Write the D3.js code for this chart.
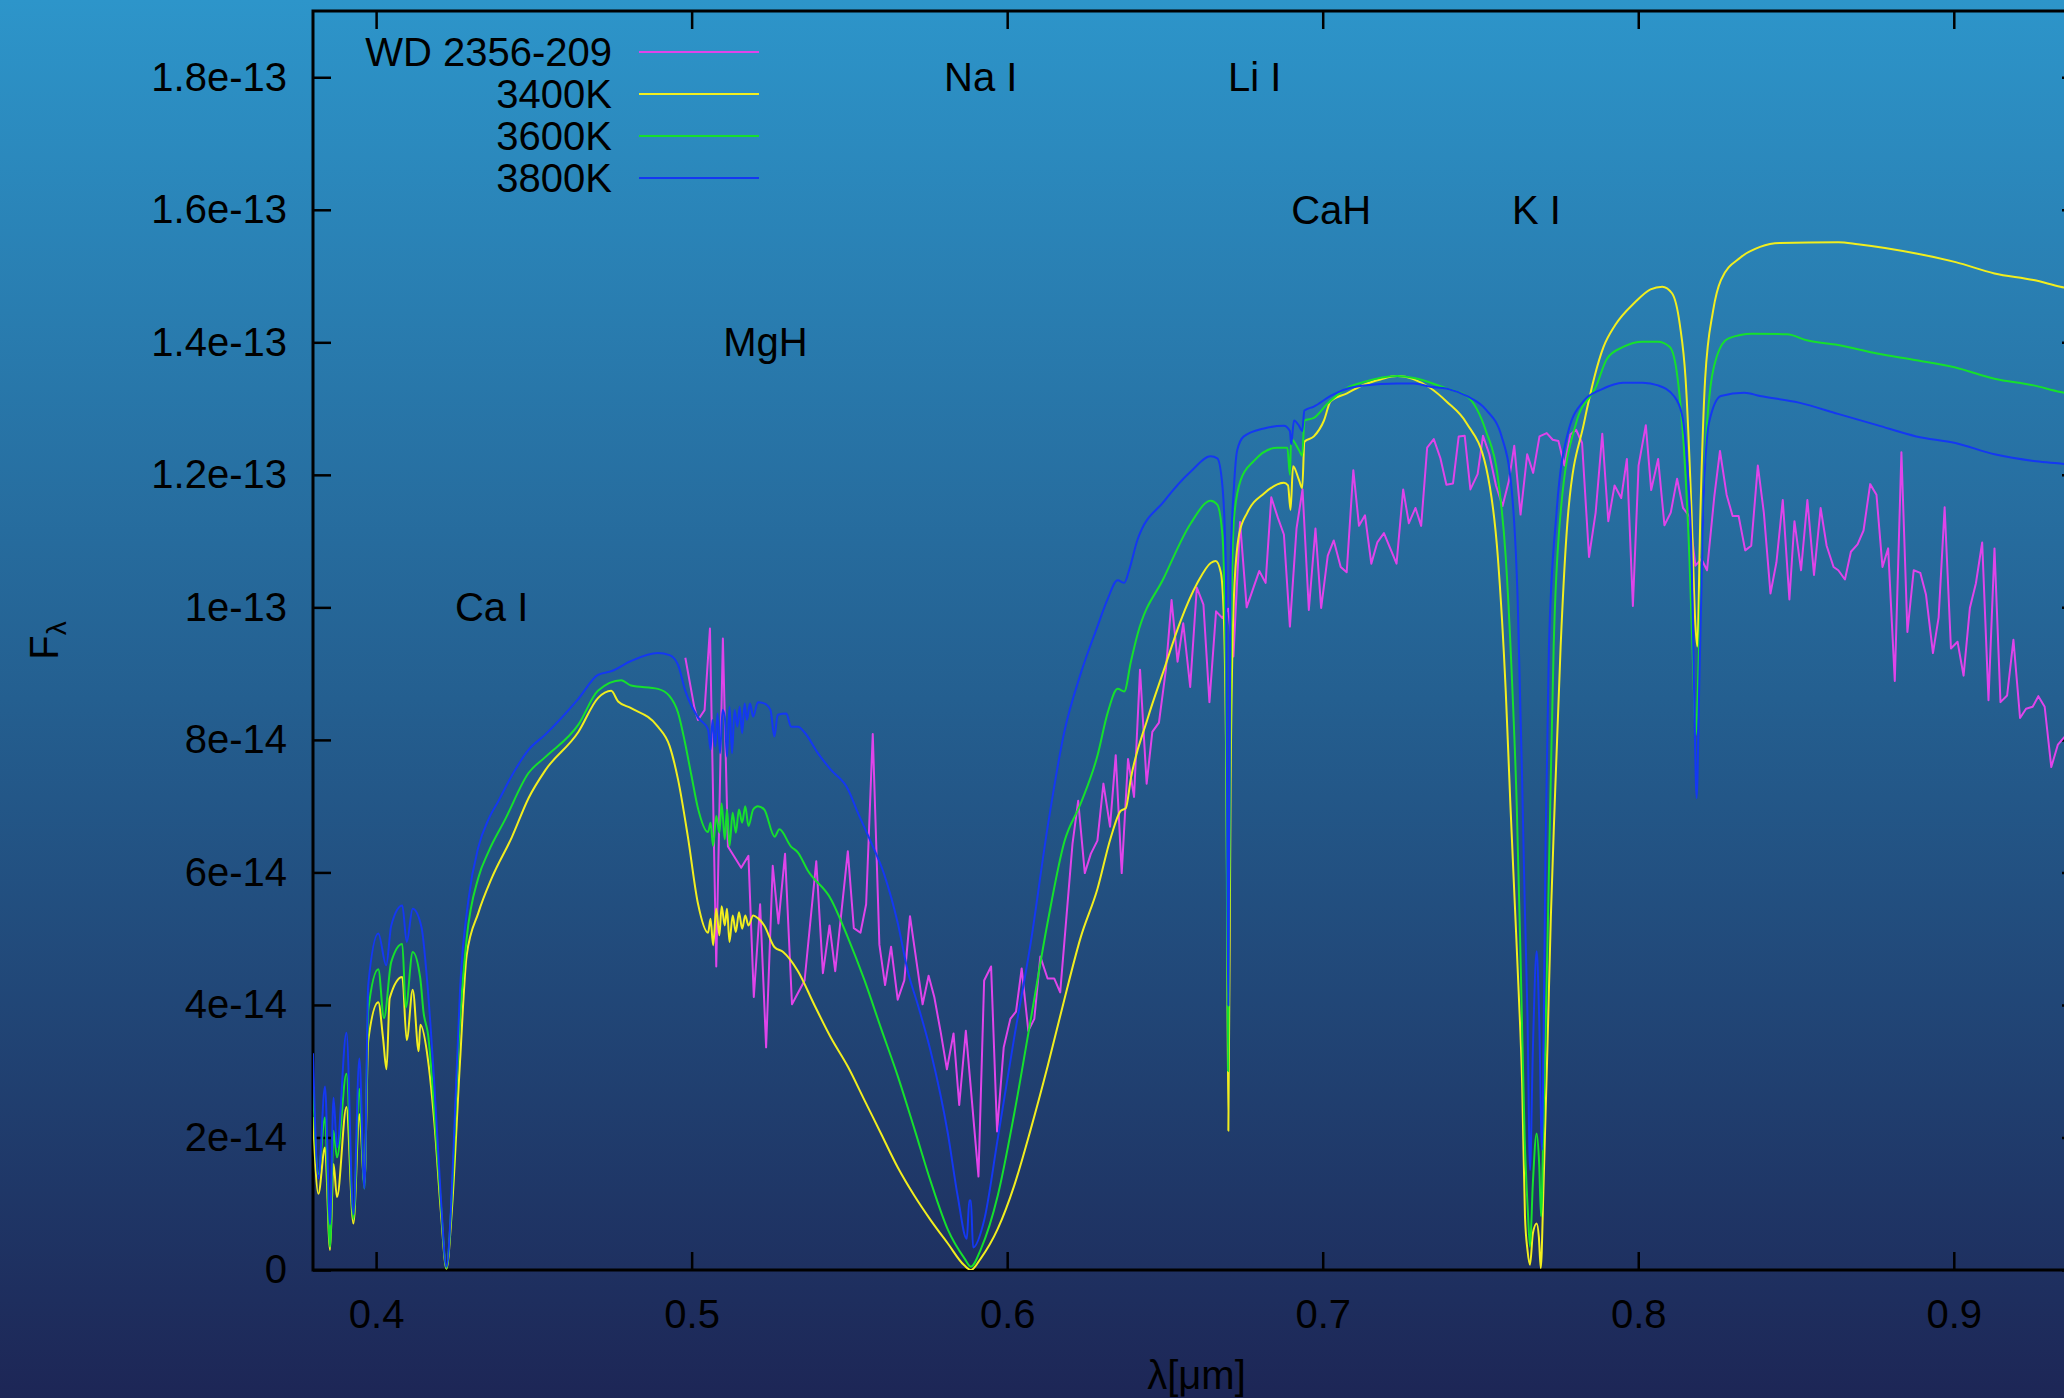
<!DOCTYPE html>
<html>
<head>
<meta charset="utf-8">
<script src="https://cdn.jsdelivr.net/npm/d3@7"></script>
<style>
  html, body { margin: 0; padding: 0; overflow: hidden; background: #1d2757; }
  text { font-family: "Liberation Sans", Arial, Helvetica, sans-serif; fill: #000; }
</style>
</head>
<body>
<svg id="chart" width="2064" height="1398"></svg>
<script>
// Flux values are given in units of 1e-14 (erg s^-1 cm^-2 A^-1), wavelength in micron.
const FLUX_UNIT = 1e-14;

// Observed spectrum of WD 2356-209 (companion-dominated red part)
const wd2356 = [
  [0.4980,9.24],[0.5009,8.48],[0.5020,8.30],[0.5041,8.45],[0.5058,9.68],[0.5078,4.58],[0.5099,9.53],
  [0.5115,6.39],[0.5157,6.07],[0.5180,6.25],[0.5197,4.12],[0.5217,5.52],[0.5236,3.36],[0.5257,6.10],
  [0.5275,5.23],[0.5296,6.28],[0.5318,4.01],[0.5358,4.37],[0.5395,6.17],[0.5416,4.48],[0.5437,5.20],
  [0.5455,4.51],[0.5495,6.32],[0.5514,5.16],[0.5535,5.09],[0.5553,5.52],[0.5574,8.09],[0.5595,4.91],
  [0.5613,4.30],[0.5632,4.88],[0.5653,4.08],[0.5674,4.37],[0.5692,5.34],[0.5732,4.01],[0.5751,4.44],
  [0.5769,4.12],[0.5790,3.57],[0.5809,3.03],[0.5830,3.57],[0.5848,2.49],[0.5869,3.61],[0.5909,1.41],
  [0.5927,4.37],[0.5949,4.58],[0.5968,2.09],[0.5989,3.36],[0.6010,3.79],[0.6028,3.90],[0.6046,4.55],
  [0.6067,3.61],[0.6086,3.79],[0.6105,4.73],[0.6128,4.40],[0.6149,4.40],[0.6168,4.19],[0.6207,6.43],
  [0.6225,7.08],[0.6246,5.99],[0.6265,6.28],[0.6286,6.48],[0.6305,7.34],[0.6326,6.69],[0.6344,7.77],
  [0.6363,5.99],[0.6383,7.71],[0.6402,7.14],[0.6421,9.06],[0.6442,7.34],[0.6460,8.12],[0.6481,8.26],
  [0.6503,9.06],[0.6521,10.11],[0.6540,9.18],[0.6558,9.76],[0.6580,8.80],[0.6601,10.30],[0.6622,10.04],
  [0.6641,8.57],[0.6662,9.94],[0.6682,9.84],[0.6700,9.98],[0.6717,9.26],[0.6738,11.29],[0.6759,10.00],
  [0.6780,10.29],[0.6799,10.55],[0.6819,10.37],[0.6837,11.66],[0.6858,11.35],[0.6877,11.10],[0.6896,9.71],
  [0.6917,11.19],[0.6936,11.78],[0.6956,9.96],[0.6977,11.19],[0.6995,9.99],[0.7016,10.78],[0.7035,11.01],
  [0.7057,10.61],[0.7076,10.53],[0.7097,12.07],[0.7115,11.23],[0.7134,11.39],[0.7154,10.66],[0.7173,10.98],
  [0.7194,11.12],[0.7234,10.66],[0.7255,11.78],[0.7273,11.27],[0.7294,11.50],[0.7312,11.23],[0.7331,12.41],
  [0.7352,12.54],[0.7373,12.25],[0.7392,11.85],[0.7413,11.87],[0.7431,12.58],[0.7450,12.59],[0.7468,11.78],
  [0.7491,12.01],[0.7508,12.59],[0.7528,12.31],[0.7549,11.84],[0.7570,11.53],[0.7590,11.91],[0.7607,12.44],
  [0.7627,11.40],[0.7648,12.31],[0.7667,12.03],[0.7687,12.58],[0.7710,12.63],[0.7729,12.53],[0.7747,12.51],
  [0.7766,12.14],[0.7785,12.61],[0.7803,12.68],[0.7822,12.48],[0.7844,10.76],[0.7865,11.43],[0.7886,12.62],
  [0.7905,11.30],[0.7925,11.84],[0.7946,11.65],[0.7964,12.24],[0.7983,10.02],[0.8001,12.14],[0.8024,12.75],
  [0.8041,11.77],[0.8063,12.24],[0.8083,11.24],[0.8103,11.43],[0.8123,11.94],[0.8142,11.50],[0.8163,11.37],
  [0.8181,10.63],[0.8200,10.73],[0.8218,10.56],[0.8241,11.67],[0.8259,12.36],[0.8280,11.70],[0.8299,11.38],
  [0.8318,11.38],[0.8339,10.86],[0.8358,10.93],[0.8379,12.14],[0.8398,11.43],[0.8419,10.21],[0.8438,10.68],
  [0.8458,11.62],[0.8479,10.12],[0.8495,11.30],[0.8516,10.56],[0.8536,11.62],[0.8557,10.49],[0.8578,11.50],
  [0.8597,10.93],[0.8619,10.61],[0.8634,10.56],[0.8655,10.42],[0.8674,10.84],[0.8695,10.95],[0.8714,11.16],
  [0.8735,11.86],[0.8755,11.70],[0.8774,10.61],[0.8792,10.89],[0.8813,8.89],[0.8834,12.34],[0.8853,9.63],
  [0.8873,10.56],[0.8894,10.52],[0.8912,10.19],[0.8934,9.31],[0.8952,9.85],[0.8971,11.51],[0.8991,9.38],
  [0.9012,9.48],[0.9031,8.97],[0.9051,9.99],[0.9070,10.36],[0.9090,10.98],[0.9110,8.60],[0.9129,10.89],
  [0.9148,8.57],[0.9169,8.67],[0.9189,9.51],[0.9210,8.33],[0.9229,8.47],[0.9250,8.50],[0.9268,8.66],
  [0.9288,8.50],[0.9309,7.59],[0.9330,7.93],[0.9352,8.05]
];

// Model atmosphere, Teff = 3400 K
const model3400K = [
  [0.3800,2.31],[0.3817,1.15],[0.3838,1.85],[0.3854,0.30],[0.3865,1.60],[0.3876,1.10],[0.3906,2.46],
  [0.3928,0.70],[0.3947,2.35],[0.3963,1.30],[0.3975,3.46],[0.4007,4.04],[0.4022,3.50],[0.4033,3.03],
  [0.4043,4.10],[0.4083,4.42],[0.4097,3.47],[0.4116,4.23],[0.4135,3.30],[0.4140,3.70],[0.4165,3.15],
  [0.4185,2.20],[0.4205,0.90],[0.4223,0.02],[0.4240,0.90],[0.4266,3.15],[0.4287,4.75],[0.4324,5.39],
  [0.4367,5.92],[0.4430,6.53],[0.4483,7.12],[0.4536,7.54],[0.4641,8.12],[0.4703,8.63],[0.4745,8.74],
  [0.4767,8.58],[0.4808,8.48],[0.4893,8.20],[0.4930,7.91],[0.4957,7.40],[0.4988,6.54],[0.5020,5.53],
  [0.5052,5.09],[0.5060,5.30],[0.5068,4.90],[0.5078,5.45],[0.5088,5.05],[0.5095,5.49],[0.5105,5.20],
  [0.5112,5.45],[0.5120,4.95],[0.5130,5.35],[0.5140,5.10],[0.5150,5.40],[0.5160,5.15],[0.5170,5.35],
  [0.5180,5.20],[0.5195,5.35],[0.5210,5.31],[0.5230,5.20],[0.5263,4.87],[0.5290,4.80],[0.5337,4.51],
  [0.5389,4.00],[0.5442,3.50],[0.5495,3.07],[0.5548,2.56],[0.5600,2.06],[0.5653,1.55],[0.5706,1.12],
  [0.5758,0.75],[0.5812,0.40],[0.5864,0.07],[0.5885,0.00],[0.5917,0.18],[0.5970,0.62],[0.6022,1.27],
  [0.6075,2.13],[0.6128,3.07],[0.6181,4.08],[0.6233,5.02],[0.6286,5.75],[0.6328,6.52],[0.6360,6.93],
  [0.6376,6.97],[0.6392,7.42],[0.6445,8.32],[0.6497,9.06],[0.6550,9.80],[0.6603,10.37],[0.6645,10.67],
  [0.6661,10.70],[0.6677,10.53],[0.6687,9.80],[0.6696,6.52],[0.6701,2.10],[0.6708,7.34],[0.6719,10.20],
  [0.6735,11.10],[0.6761,11.43],[0.6814,11.72],[0.6877,11.88],[0.6890,11.84],[0.6898,11.47],[0.6906,12.13],
  [0.6925,11.92],[0.6935,11.80],[0.6942,12.50],[0.6972,12.58],[0.7004,12.82],[0.7025,13.11],[0.7077,13.23],
  [0.7130,13.36],[0.7183,13.44],[0.7236,13.49],[0.7289,13.44],[0.7341,13.31],[0.7394,13.10],[0.7456,12.78],
  [0.7518,12.11],[0.7555,10.76],[0.7580,8.74],[0.7595,7.00],[0.7609,5.50],[0.7621,4.20],[0.7632,2.82],
  [0.7641,0.81],[0.7649,0.30],[0.7657,0.08],[0.7666,0.55],[0.7678,0.70],[0.7685,0.50],[0.7691,0.03],
  [0.7700,1.31],[0.7712,3.32],[0.7723,5.33],[0.7735,7.00],[0.7754,9.41],[0.7778,11.43],[0.7828,12.78],
  [0.7890,13.93],[0.7927,14.26],[0.7989,14.60],[0.8039,14.80],[0.8076,14.84],[0.8107,14.74],[0.8132,14.26],
  [0.8150,13.45],[0.8169,11.43],[0.8181,9.75],[0.8187,9.41],[0.8197,11.43],[0.8212,13.45],[0.8237,14.47],
  [0.8262,14.94],[0.8324,15.28],[0.8386,15.44],[0.8448,15.50],[0.8634,15.51],[0.8696,15.48],[0.8881,15.34],
  [0.9006,15.21],[0.9129,15.04],[0.9253,14.94],[0.9338,14.84],[0.9400,14.78]
];

// Model atmosphere, Teff = 3600 K
const model3600K = [
  [0.3800,2.77],[0.3817,1.45],[0.3838,2.30],[0.3854,0.35],[0.3865,2.10],[0.3876,1.70],[0.3906,2.96],
  [0.3928,0.77],[0.3947,2.73],[0.3963,1.23],[0.3975,3.92],[0.4007,4.54],[0.4025,3.80],[0.4048,4.65],
  [0.4083,4.92],[0.4094,3.96],[0.4116,4.80],[0.4140,4.40],[0.4150,3.90],[0.4165,3.54],[0.4185,2.38],
  [0.4205,1.00],[0.4223,0.03],[0.4240,1.10],[0.4260,3.30],[0.4287,5.00],[0.4324,5.92],[0.4356,6.31],
  [0.4409,6.80],[0.4483,7.50],[0.4536,7.74],[0.4641,8.23],[0.4703,8.74],[0.4777,8.90],[0.4808,8.82],
  [0.4893,8.77],[0.4930,8.66],[0.4957,8.41],[0.4978,7.98],[0.4999,7.47],[0.5020,6.97],[0.5052,6.61],
  [0.5060,6.75],[0.5068,6.40],[0.5078,6.85],[0.5088,6.60],[0.5095,7.04],[0.5105,6.50],[0.5112,6.95],
  [0.5120,6.40],[0.5130,6.90],[0.5140,6.60],[0.5150,6.95],[0.5160,6.75],[0.5170,7.00],[0.5180,6.70],
  [0.5195,6.95],[0.5210,7.00],[0.5230,6.95],[0.5263,6.54],[0.5278,6.65],[0.5315,6.39],[0.5337,6.30],
  [0.5368,6.03],[0.5441,5.60],[0.5495,5.02],[0.5548,4.37],[0.5600,3.65],[0.5653,2.93],[0.5706,2.13],
  [0.5758,1.33],[0.5812,0.61],[0.5864,0.18],[0.5885,0.05],[0.5917,0.32],[0.5970,1.12],[0.6022,2.35],
  [0.6075,3.79],[0.6128,5.24],[0.6181,6.46],[0.6233,7.04],[0.6286,7.76],[0.6318,8.40],[0.6350,8.77],
  [0.6371,8.73],[0.6392,9.18],[0.6413,9.59],[0.6497,10.45],[0.6582,11.27],[0.6645,11.61],[0.6666,11.55],
  [0.6682,11.10],[0.6693,8.98],[0.6700,3.00],[0.6708,8.98],[0.6719,11.35],[0.6740,11.92],[0.6782,12.21],
  [0.6856,12.41],[0.6888,12.41],[0.6896,12.00],[0.6900,12.54],[0.6925,12.37],[0.6935,12.29],[0.6942,12.82],
  [0.6972,12.86],[0.7014,13.07],[0.7077,13.31],[0.7130,13.40],[0.7236,13.49],[0.7289,13.46],[0.7394,13.30],
  [0.7456,13.19],[0.7518,12.65],[0.7555,11.97],[0.7580,10.76],[0.7599,9.00],[0.7615,7.00],[0.7628,4.50],
  [0.7640,2.00],[0.7650,0.90],[0.7657,0.35],[0.7666,1.31],[0.7678,2.06],[0.7686,1.60],[0.7692,0.81],
  [0.7700,2.32],[0.7712,4.83],[0.7721,7.00],[0.7732,9.41],[0.7754,11.43],[0.7803,12.78],[0.7865,13.32],
  [0.7902,13.76],[0.7952,13.93],[0.8014,14.01],[0.8063,14.01],[0.8100,13.93],[0.8125,13.45],[0.8144,12.45],
  [0.8162,10.76],[0.8174,9.08],[0.8182,8.07],[0.8193,9.41],[0.8206,11.43],[0.8218,12.78],[0.8249,13.79],
  [0.8286,14.06],[0.8361,14.13],[0.8472,14.12],[0.8534,14.03],[0.8633,13.96],[0.8757,13.83],[0.8881,13.73],
  [0.9005,13.62],[0.9129,13.45],[0.9253,13.35],[0.9338,13.25],[0.9400,13.20]
];

// Model atmosphere, Teff = 3800 K
const model3800K = [
  [0.3800,3.27],[0.3817,1.38],[0.3838,2.77],[0.3854,0.69],[0.3865,2.60],[0.3876,1.85],[0.3906,3.58],
  [0.3928,0.84],[0.3947,3.19],[0.3963,1.23],[0.3975,4.30],[0.4007,5.08],[0.4032,4.60],[0.4048,5.20],
  [0.4083,5.50],[0.4097,4.95],[0.4116,5.45],[0.4144,5.17],[0.4160,4.46],[0.4185,2.77],[0.4205,1.10],
  [0.4223,0.05],[0.4238,1.00],[0.4250,2.38],[0.4266,4.23],[0.4293,5.60],[0.4324,6.38],[0.4356,6.80],
  [0.4388,7.08],[0.4430,7.46],[0.4483,7.85],[0.4536,8.08],[0.4641,8.62],[0.4703,8.98],[0.4747,9.04],
  [0.4808,9.19],[0.4893,9.31],[0.4930,9.28],[0.4957,9.13],[0.4980,8.74],[0.5020,8.34],[0.5052,8.16],
  [0.5060,7.85],[0.5066,8.30],[0.5075,7.90],[0.5082,8.40],[0.5090,7.80],[0.5098,8.45],[0.5105,8.35],
  [0.5112,7.75],[0.5120,8.50],[0.5128,7.80],[0.5136,8.45],[0.5145,8.20],[0.5152,8.50],[0.5160,8.10],
  [0.5168,8.55],[0.5175,8.30],[0.5185,8.55],[0.5195,8.35],[0.5210,8.57],[0.5230,8.55],[0.5250,8.45],
  [0.5262,8.05],[0.5273,8.38],[0.5300,8.40],[0.5315,8.20],[0.5337,8.20],[0.5360,8.10],[0.5400,7.80],
  [0.5441,7.55],[0.5495,7.26],[0.5527,6.90],[0.5568,6.46],[0.5611,5.96],[0.5653,5.24],[0.5685,4.51],
  [0.5717,4.00],[0.5758,3.29],[0.5812,2.06],[0.5843,1.12],[0.5872,0.47],[0.5880,1.05],[0.5885,1.05],
  [0.5892,0.34],[0.5927,0.75],[0.5970,1.98],[0.6022,3.50],[0.6075,4.95],[0.6128,6.68],[0.6181,8.12],
  [0.6233,9.00],[0.6286,9.71],[0.6318,10.12],[0.6350,10.41],[0.6371,10.37],[0.6387,10.57],[0.6413,11.02],
  [0.6497,11.60],[0.6582,12.05],[0.6645,12.28],[0.6666,12.25],[0.6682,11.84],[0.6693,10.61],[0.6701,3.99],
  [0.6708,10.61],[0.6719,11.84],[0.6729,12.37],[0.6750,12.58],[0.6814,12.70],[0.6877,12.74],[0.6896,12.66],
  [0.6900,12.46],[0.6909,12.82],[0.6925,12.74],[0.6935,12.66],[0.6942,12.97],[0.6972,13.03],[0.7025,13.19],
  [0.7077,13.30],[0.7130,13.35],[0.7236,13.38],[0.7289,13.38],[0.7341,13.33],[0.7394,13.30],[0.7456,13.19],
  [0.7518,12.98],[0.7567,12.58],[0.7599,11.77],[0.7618,10.09],[0.7632,7.39],[0.7640,5.58],[0.7649,3.82],
  [0.7657,1.51],[0.7666,3.32],[0.7678,4.81],[0.7686,3.80],[0.7695,1.81],[0.7700,3.50],[0.7706,6.34],
  [0.7717,9.41],[0.7741,11.43],[0.7778,12.65],[0.7828,13.12],[0.7884,13.29],[0.7952,13.39],[0.8014,13.39],
  [0.8063,13.35],[0.8113,13.19],[0.8138,12.92],[0.8156,12.11],[0.8169,10.76],[0.8177,8.74],[0.8185,7.12],
  [0.8193,8.74],[0.8206,11.43],[0.8224,12.78],[0.8262,13.19],[0.8336,13.24],[0.8386,13.19],[0.8509,13.09],
  [0.8633,12.92],[0.8757,12.75],[0.8881,12.58],[0.9005,12.48],[0.9129,12.31],[0.9253,12.21],[0.9338,12.17],
  [0.9400,12.12]
];

// Series in plotting order (later ones drawn on top); models are smooth synthetic spectra
const seriesNames  = ["WD 2356-209", "3400K", "3600K", "3800K"];
const seriesData   = [wd2356, model3400K, model3600K, model3800K];
const seriesColors = ["#e044ea", "#f2ee1e", "#16e02c", "#1438f2"];
const seriesSmooth = [false, true, true, true];

// Axis ticks
const xTickValues = [0.4, 0.5, 0.6, 0.7, 0.8, 0.9];
const xTickLabels = ["0.4", "0.5", "0.6", "0.7", "0.8", "0.9"];
const yTickValues = [0, 2e-14, 4e-14, 6e-14, 8e-14, 1e-13, 1.2e-13, 1.4e-13, 1.6e-13, 1.8e-13];
const yTickLabels = ["0", "2e-14", "4e-14", "6e-14", "8e-14", "1e-13", "1.2e-13", "1.4e-13", "1.6e-13", "1.8e-13"];

// Spectral feature labels: [text, wavelength, flux]
const featureLabels = [
  ["Na I", 0.58, 1.8e-13],
  ["Li I", 0.67, 1.8e-13],
  ["CaH", 0.69, 1.6e-13],
  ["K I", 0.76, 1.6e-13],
  ["MgH", 0.51, 1.4e-13],
  ["Ca I", 0.425, 1e-13]
];

const W = 2064, H = 1398;
const plot = { left: 313, right: 2080, top: 11, bottom: 1270 };

const svg = d3.select("#chart");

// Background: vertical gradient from light sky blue to dark navy
const defs = svg.append("defs");
const grad = defs.append("linearGradient").attr("id", "bg")
  .attr("x1", 0).attr("y1", 0).attr("x2", 0).attr("y2", 1);
grad.append("stop").attr("offset", "0%").attr("stop-color", "#2d95ca");
grad.append("stop").attr("offset", "50%").attr("stop-color", "#245f90");
grad.append("stop").attr("offset", "100%").attr("stop-color", "#1d2656");
svg.append("rect").attr("width", W).attr("height", H).attr("fill", "url(#bg)");

defs.append("clipPath").attr("id", "plotclip").append("rect")
  .attr("x", plot.left).attr("y", plot.top)
  .attr("width", plot.right - plot.left).attr("height", plot.bottom - plot.top);

const x = d3.scaleLinear().domain([0.38, 0.94]).range([plot.left, plot.right]);
const y = d3.scaleLinear().domain([0, 1.9e-13]).range([plot.bottom, plot.top]);

const FONT = 40;

// Axes (ticks point inward, mirrored on top and right)
const tickLen = 18;
const gx = svg.append("g").attr("transform", `translate(0,${plot.bottom})`)
  .call(d3.axisBottom(x).tickValues(xTickValues)
    .tickFormat((d, i) => xTickLabels[i])
    .tickSizeInner(-tickLen).tickSizeOuter(0).tickPadding(30));
const gy = svg.append("g").attr("transform", `translate(${plot.left},0)`)
  .call(d3.axisLeft(y).tickValues(yTickValues)
    .tickFormat((d, i) => yTickLabels[i])
    .tickSizeInner(-tickLen).tickSizeOuter(0).tickPadding(26));
const gt = svg.append("g").attr("transform", `translate(0,${plot.top})`)
  .call(d3.axisTop(x).tickValues(xTickValues).tickFormat("")
    .tickSizeInner(-tickLen).tickSizeOuter(0));
const gr = svg.append("g").attr("transform", `translate(${plot.right},0)`)
  .call(d3.axisRight(y).tickValues(yTickValues).tickFormat("")
    .tickSizeInner(-tickLen).tickSizeOuter(0));

[gx, gy, gt, gr].forEach(g => {
  g.select(".domain").remove();
  g.selectAll(".tick line").attr("stroke", "#000").attr("stroke-width", 2.5);
  g.selectAll(".tick text")
    .attr("font-family", "Liberation Sans, Arial, Helvetica, sans-serif")
    .attr("font-size", FONT).attr("fill", "#000");
});

// Plot frame
svg.append("rect")
  .attr("x", plot.left).attr("y", plot.top)
  .attr("width", plot.right - plot.left).attr("height", plot.bottom - plot.top)
  .attr("fill", "none").attr("stroke", "#000").attr("stroke-width", 3);

// Spectra
const lineLinear = d3.line()
  .x(d => x(d[0]))
  .y(d => y(d[1] * FLUX_UNIT));
const lineSmooth = d3.line()
  .x(d => x(d[0]))
  .y(d => y(d[1] * FLUX_UNIT))
  .curve(d3.curveMonotoneX);

const curves = svg.append("g").attr("clip-path", "url(#plotclip)");
seriesData.forEach((data, i) => {
  curves.append("path")
    .datum(data)
    .attr("d", seriesSmooth[i] ? lineSmooth : lineLinear)
    .attr("fill", "none")
    .attr("stroke", seriesColors[i])
    .attr("stroke-width", 2)
    .attr("stroke-linejoin", "round");
});

// Legend (top left, right-aligned labels followed by line samples)
const legend = svg.append("g");
const legendTextX = 612, legendLineX1 = 639, legendLineX2 = 759;
const legendY0 = 52, legendDY = 42;
seriesNames.forEach((name, i) => {
  const ly = legendY0 + i * legendDY;
  legend.append("text")
    .attr("x", legendTextX).attr("y", ly).attr("dy", "0.35em")
    .attr("text-anchor", "end").attr("font-size", FONT)
    .text(name);
  legend.append("line")
    .attr("x1", legendLineX1).attr("x2", legendLineX2)
    .attr("y1", ly).attr("y2", ly)
    .attr("stroke", seriesColors[i]).attr("stroke-width", 2);
});

// Spectral feature labels
svg.append("g").selectAll("text")
  .data(featureLabels)
  .join("text")
  .attr("x", d => x(d[1]))
  .attr("y", d => y(d[2]))
  .attr("dy", "0.35em")
  .attr("font-size", FONT)
  .text(d => d[0]);

// Axis titles
const ylab = svg.append("text")
  .attr("transform", `translate(58,${(plot.top + plot.bottom) / 2}) rotate(-90)`)
  .attr("text-anchor", "middle")
  .attr("font-size", FONT);
ylab.append("tspan").text("F");
ylab.append("tspan").attr("font-size", FONT * 0.7).attr("dy", 8).text("λ");

svg.append("text")
  .attr("x", (plot.left + plot.right) / 2).attr("y", 1389)
  .attr("text-anchor", "middle")
  .attr("font-size", FONT)
  .text("λ[μm]");
</script>
</body>
</html>
